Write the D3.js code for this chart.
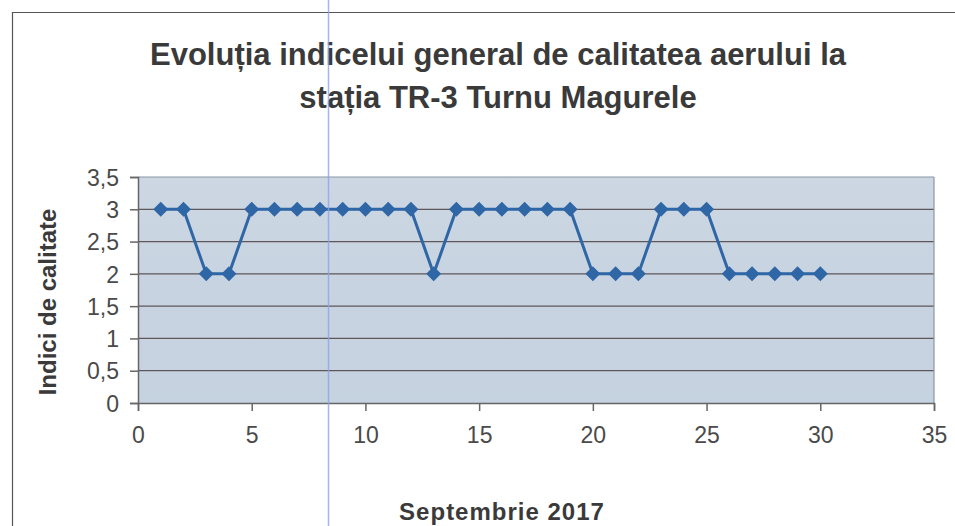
<!DOCTYPE html>
<html>
<head>
<meta charset="utf-8">
<script src="https://cdn.jsdelivr.net/npm/d3@7"></script>
<style>
  body { margin: 0; background: #fff; }
  text { font-family: "Liberation Sans", Arial, sans-serif; }
</style>
</head>
<body>
<svg id="chart" width="955" height="526"></svg>
<script>
// zilele lunii septembrie si indicii zilnici
var days = d3.range(1, 31);
var indici = [3, 3, 2, 2, 3, 3, 3, 3, 3, 3, 3, 3, 2, 3, 3, 3, 3, 3, 3, 2,
              2, 2, 3, 3, 3, 2, 2, 2, 2, 2];
var xTicks = [0, 5, 10, 15, 20, 25, 30, 35];
var yTicks = [0, 0.5, 1, 1.5, 2, 2.5, 3, 3.5];
var titleLines = ["Evoluția indicelui general de calitatea aerului la", "stația TR-3 Turnu Magurele"];

var svg = d3.select("#chart");
var plotL = 138, plotR = 934, plotT = 177, plotB = 403;

var x = d3.scaleLinear().domain([0, 35]).range([plotL, plotR]);
var y = d3.scaleLinear().domain([0, 3.5]).range([plotB, plotT]);

// chenarul graficului
svg.append("path")
  .attr("d", "M12.5,526 L12.5,12.5 L955,12.5")
  .attr("fill", "none").attr("stroke", "#555").attr("stroke-width", 1.2);

// fundal zona de desen
var defs = svg.append("defs");
var grad = defs.append("linearGradient").attr("id", "bg")
  .attr("x1", 0).attr("y1", 0).attr("x2", 0).attr("y2", 1);
grad.append("stop").attr("offset", "0%").attr("stop-color", "#ccd7e3");
grad.append("stop").attr("offset", "50%").attr("stop-color", "#c8d3e1");
grad.append("stop").attr("offset", "100%").attr("stop-color", "#c5d2e0");

svg.append("rect")
  .attr("x", plotL).attr("y", plotT)
  .attr("width", plotR - plotL).attr("height", plotB - plotT)
  .attr("fill", "url(#bg)");

// linii de grila
svg.append("g").selectAll("line").data(yTicks.filter(function(d) { return d > 0; }))
  .enter().append("line")
  .attr("x1", plotL).attr("x2", plotR)
  .attr("y1", function(d) { return y(d); }).attr("y2", function(d) { return y(d); })
  .attr("stroke", function(d) { return d == 3.5 ? "#8a96a4" : "#5f5658"; })
  .attr("stroke-width", 1.2);

svg.append("line")
  .attr("x1", plotR).attr("x2", plotR).attr("y1", plotT).attr("y2", plotB)
  .attr("stroke", "#8a96a4").attr("stroke-width", 1.2);

// axe
var yAxis = svg.append("g")
  .attr("transform", "translate(" + plotL + ",0)")
  .call(d3.axisLeft(y).tickValues(yTicks).tickSize(8).tickPadding(11)
    .tickFormat(function(d) { return String(d).replace(".", ","); }));

var xAxis = svg.append("g")
  .attr("transform", "translate(0," + plotB + ")")
  .call(d3.axisBottom(x).tickValues(xTicks).tickSize(8).tickPadding(16));

[xAxis, yAxis].forEach(function(ax) {
  ax.select(".domain").attr("stroke", "#666").attr("stroke-width", 1.5);
  ax.selectAll(".tick line").attr("stroke", "#666").attr("stroke-width", 1.5);
  ax.selectAll(".tick text").attr("fill", "#4a4a4a").style("font-size", "23px")
    .style("font-family", "'Liberation Sans', Arial, sans-serif");
});
yAxis.selectAll(".tick text").attr("dy", "0.36em");

// seria de date
var line = d3.line()
  .x(function(d, i) { return x(days[i]); })
  .y(function(d) { return y(d); });

svg.append("path").datum(indici)
  .attr("d", line)
  .attr("fill", "none").attr("stroke", "#2e66a6").attr("stroke-width", 3);

svg.append("g").selectAll("path").data(indici)
  .enter().append("path")
  .attr("transform", function(d, i) { return "translate(" + x(days[i]) + "," + y(d) + ")"; })
  .attr("d", "M0,-7.5 L7.5,0 L0,7.5 L-7.5,0 Z")
  .attr("fill", "#2e66a6");

// titluri
svg.append("g").selectAll("text").data(titleLines)
  .enter().append("text")
  .attr("x", 498).attr("y", function(d, i) { return 65 + i * 43; })
  .attr("text-anchor", "middle")
  .attr("fill", "#3a3a3a")
  .style("font-size", "31px").style("font-weight", "bold")
  .text(function(d) { return d; });

svg.append("text")
  .attr("transform", "translate(56,302) rotate(-90)")
  .attr("text-anchor", "middle")
  .attr("fill", "#3a3a3a")
  .style("font-size", "24px").style("font-weight", "bold")
  .text("Indici de calitate");

svg.append("text")
  .attr("x", 502).attr("y", 520)
  .attr("text-anchor", "middle")
  .attr("fill", "#3a3a3a")
  .style("font-size", "24px").style("font-weight", "bold")
  .style("letter-spacing", "1px")
  .text("Septembrie 2017");

// dunga albastra din scanare
svg.append("line")
  .attr("x1", 328.5).attr("x2", 328.5).attr("y1", 0).attr("y2", 526)
  .attr("stroke", "#8fa3e8").attr("stroke-width", 1.5).attr("opacity", 0.8);
</script>
</body>
</html>
